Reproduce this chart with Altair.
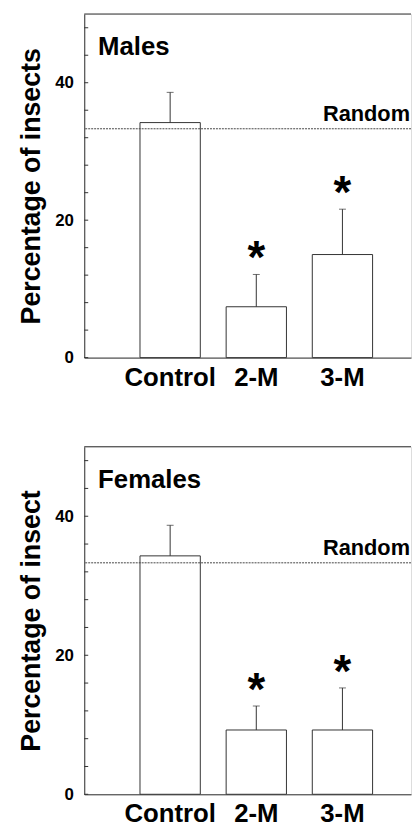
import altair as alt
import pandas as pd

categories = ["Control", "2-M", "3-M"]
male_means = [34.2, 7.4, 15.0]
male_err_top = [38.6, 12.1, 21.6]
female_means = [34.3, 9.25, 9.25]
female_err_top = [38.7, 12.7, 15.3]
significance = ["", "*", "*"]
random_level = 33.3
minor_ticks = list(range(0, 50, 4))
label_values = [0, 20, 40]
y_max = 50

FONT = "Liberation Sans"
W = 330
DARK = "#333333"


def panel(label, ytitle, means, errs, height, xpad):
    df = pd.DataFrame({"cat": categories, "mean": means, "err": errs, "star": significance})
    ticks_df = pd.DataFrame({"t": minor_ticks})
    xs = alt.Scale(domain=categories, paddingInner=0.3, paddingOuter=0.5466, align=0.592)
    ys = alt.Scale(domain=[0, y_max], nice=False, zero=True)
    x = alt.X(
        "cat:N", scale=xs, sort=categories,
        axis=alt.Axis(title=None, ticks=False, labelAngle=0, labelFont=FONT,
                      labelFontSize=26, labelFontWeight="bold", labelPadding=xpad,
                      labelColor="black", domainColor=DARK),
    )
    y_axis = alt.Axis(
        title=ytitle, values=label_values, ticks=False, grid=False,
        labelFont=FONT, labelFontSize=17, labelFontWeight="bold", labelPadding=11,
        labelColor="black", titleFont=FONT, titleFontSize=27, titleFontWeight="bold",
        titleColor="black", titlePadding=9, domainColor=DARK,
    )
    base = alt.Chart(df)
    bars = base.mark_bar(fill="white", stroke=DARK, strokeWidth=1).encode(
        x=x, y=alt.Y("mean:Q", scale=ys, axis=y_axis)
    )
    whisk = base.mark_rule(color=DARK, strokeWidth=1).encode(
        x=alt.X("cat:N", scale=xs, sort=categories), y=alt.Y("mean:Q", scale=ys), y2="err:Q"
    )
    caps = base.mark_tick(color=DARK, size=7, thickness=1).encode(
        x=alt.X("cat:N", scale=xs, sort=categories), y=alt.Y("err:Q", scale=ys)
    )
    stars = base.mark_text(font=FONT, fontSize=46, fontWeight="bold", color="black",
                           baseline="alphabetic", dy=-1).encode(
        x=alt.X("cat:N", scale=xs, sort=categories), y=alt.Y("err:Q", scale=ys), text="star:N"
    )
    rand = alt.Chart(pd.DataFrame({"r": [random_level]})).mark_rule(
        color="#444444", strokeWidth=1, strokeDash=[2, 1]
    ).encode(y=alt.Y("r:Q", scale=ys))
    rand_txt = alt.Chart(pd.DataFrame({"r": [random_level], "s": ["Random"]})).mark_text(
        font=FONT, fontSize=22, fontWeight="bold", color="black", align="right",
        baseline="alphabetic", dy=-8
    ).encode(y=alt.Y("r:Q", scale=ys), x=alt.value(W - 1), text="s:N")
    ticks = alt.Chart(ticks_df).mark_rule(color=DARK, strokeWidth=1).encode(
        y=alt.Y("t:Q", scale=ys), x=alt.value(0), x2=alt.value(4)
    )
    top = alt.Chart(pd.DataFrame({"v": [y_max]})).mark_rule(color=DARK, strokeWidth=1).encode(
        y=alt.Y("v:Q", scale=ys)
    )
    lab = alt.Chart(pd.DataFrame({"v": [44.0], "s": [label]})).mark_text(
        font=FONT, fontSize=26, fontWeight="bold", color="black", align="left",
        baseline="alphabetic"
    ).encode(y=alt.Y("v:Q", scale=ys), x=alt.value(14), text="s:N")
    return alt.layer(bars, whisk, caps, stars, rand, rand_txt, ticks, top, lab).properties(
        width=W, height=height
    )


chart = alt.vconcat(
    panel("Males", "Percentage of insects", male_means, male_err_top, 347, 7),
    panel("Females", "Percentage of insect", female_means, female_err_top, 351, 6),
    spacing=55,
).properties(
    padding={"left": 9, "top": 1, "right": 0, "bottom": 0}
).configure_view(stroke=None).configure(background="white")

chart.save("out.html", embed_options={"renderer": "svg", "actions": False})
